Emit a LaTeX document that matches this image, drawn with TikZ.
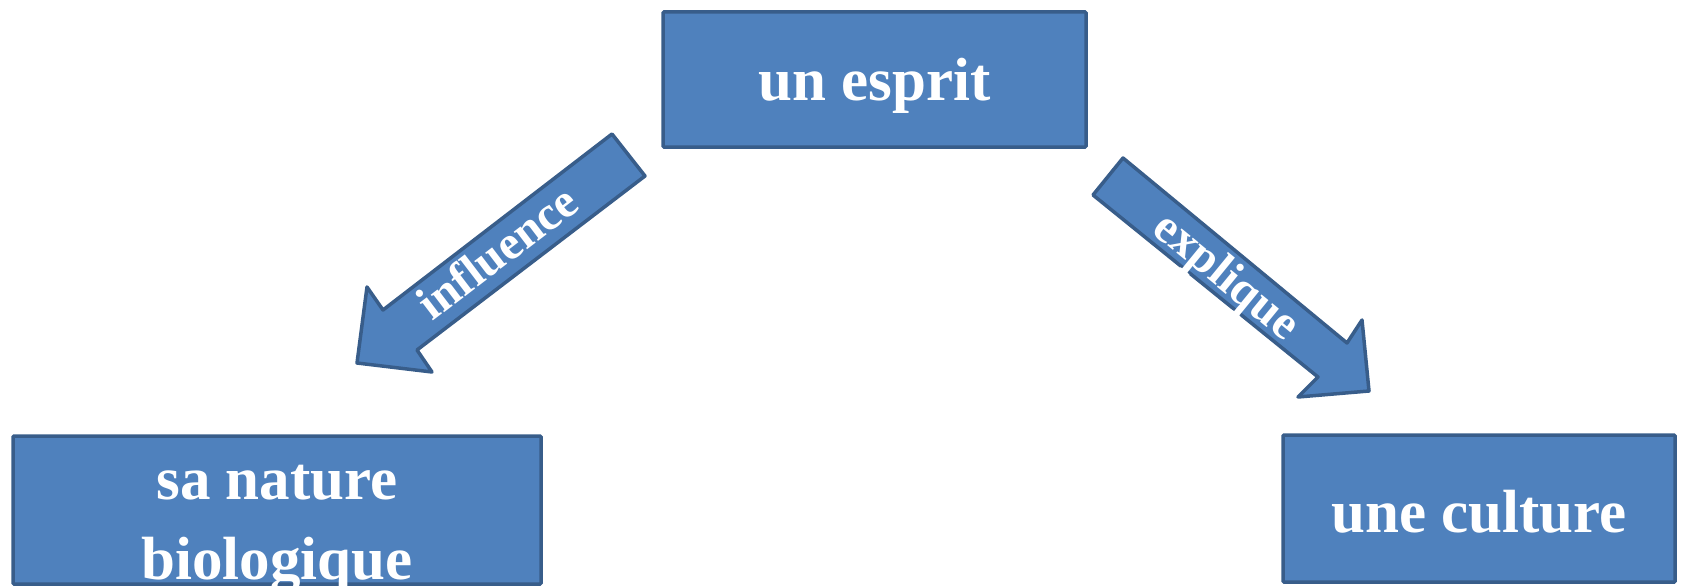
\documentclass[tikz,border=0pt]{standalone}
\usepackage{fontspec}
\setmainfont{Liberation Serif}
\usetikzlibrary{calc}
\definecolor{boxfill}{HTML}{4F81BD}
\definecolor{boxline}{HTML}{385D8A}
\begin{document}
\begin{tikzpicture}[x=1pt,y=-1pt,
  box/.style={draw=boxline, fill=boxfill, line width=3.5pt, rounded corners=1pt, inner sep=0pt},
  blockarrow/.style={draw=boxline, fill=boxfill, line width=3.5pt, line join=round},
  lbl/.style={text=white, font=\fontsize{61}{61}\selectfont\bfseries, inner sep=0pt},
  arrlbl/.style={text=white, font=\fontsize{48}{48}\selectfont\bfseries, inner sep=0pt}]
\useasboundingbox (0,0) rectangle (1681,586);
% boxes
\node[box, minimum width=423pt, minimum height=135pt] (esprit) at (874.5,79.5) {};
\node[box, minimum width=528pt, minimum height=148pt] (nature) at (277,510) {};
\node[box, minimum width=392pt, minimum height=147pt] (culture) at (1479,508.5) {};
% box texts
\node[lbl, anchor=base] (tesprit) at ($(esprit.center)+(0,20.5)$) {un esprit};
\node[lbl, anchor=base] (tnature) at ($(nature.center)+(0,-11)$) {sa nature};
\node[lbl, anchor=base] (tbio) at ($(nature.center)+(0,69)$) {biologique};
\node[lbl, anchor=base] (tculture) at ($(culture.center)+(0,23.5)$) {une culture};
% block arrow: influence
\draw[blockarrow] (612,134) -- (645,176) -- (417,350) -- (432,372) -- (357,363) -- (367,287) -- (383,310) -- cycle;
\node[arrlbl, anchor=base, rotate=37.4] (infl) at (507,265) {influence};
% block arrow: explique
\draw[blockarrow] (1123,158) -- (1347,343) -- (1362,320) -- (1369,391) -- (1298,397) -- (1318,377) -- (1093,195) -- cycle;
\node[arrlbl, rotate=-39.3] (expl) at (1225,278) {explique};
\end{tikzpicture}
\end{document}
